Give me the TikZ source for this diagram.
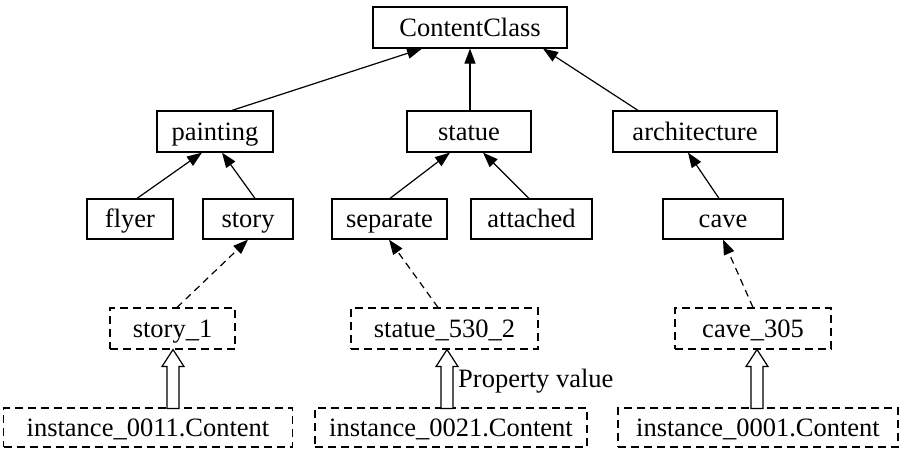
\documentclass[tikz,border=0pt]{standalone}
\usepackage{fontspec}
\setmainfont{Liberation Serif}
\usetikzlibrary{arrows.meta}
\tikzset{
  cls/.style={draw, line width=1.2pt, rectangle, inner sep=0pt, minimum height=41pt,
    text height=17.5pt, text depth=0pt,
    font=\fontsize{26.5}{30}\selectfont},
  inst/.style={cls, draw, dash pattern=on 8pt off 5pt, line width=1.1pt},
  isa/.style={line width=1.2pt, -{Triangle[length=15pt,width=11pt]}},
  typeof/.style={line width=1.2pt, dash pattern=on 7pt off 5pt, -{Triangle[length=15pt,width=11pt]}},
  hollowup/.pic={
    \draw[line width=1.2pt, fill=white, line join=miter]
      (0,0) -- (11,17) -- (6,17) -- (6,59) -- (-6,59) -- (-6,17) -- (-11,17) -- cycle;
  }
}
\begin{document}
\begin{tikzpicture}[x=1pt,y=-1pt]
\useasboundingbox (0,0) rectangle (901,452);

% class hierarchy
\node[cls, minimum width=194pt] (cc) at (470,27.5) {ContentClass};
\node[cls, minimum width=116pt] (painting) at (215,131.5) {painting};
\node[cls, minimum width=124pt] (statue) at (469,131.5) {statue};
\node[cls, minimum width=164pt] (arch) at (695,131.5) {architecture};

\node[cls, minimum width=86pt, minimum height=40pt] (flyer) at (130,219) {flyer};
\node[cls, minimum width=90pt, minimum height=40pt] (story) at (248,219) {story};
\node[cls, minimum width=115pt, minimum height=40pt] (separate) at (389.5,219) {separate};
\node[cls, minimum width=121pt, minimum height=40pt] (attached) at (531.5,219) {attached};
\node[cls, minimum width=120pt, minimum height=40pt] (cave) at (723,219) {cave};

% instances
\node[inst, minimum width=125pt] (story1) at (172.5,328.5) {story\_1};
\node[inst, minimum width=187pt] (statue5302) at (444.5,328.5) {statue\_530\_2};
\node[inst, minimum width=156pt] (cave305) at (753,328.5) {cave\_305};

\node[inst, minimum width=289pt, minimum height=39pt] (c0011) at (148,427.5) {instance\_0011.Content};
\node[inst, minimum width=272pt, minimum height=39pt] (c0021) at (451,427.5) {instance\_0021.Content};
\node[inst, minimum width=280pt, minimum height=39pt] (c0001) at (758,427.5) {instance\_0001.Content};

% subclass links
\draw[isa] ([xshift=17pt]painting.north) -- ([xshift=-48pt]cc.south);
\draw[isa] ([xshift=1pt]statue.north) -- (cc.south);
\draw[isa] ([xshift=-57pt]arch.north) -- ([xshift=73pt]cc.south);
\draw[isa] ([xshift=7pt]flyer.north) -- ([xshift=-13pt]painting.south);
\draw[isa] ([xshift=7pt]story.north) -- ([xshift=7pt]painting.south);
\draw[isa] ([xshift=0.5pt]separate.north) -- ([xshift=-19pt]statue.south);
\draw[isa] ([xshift=-2.5pt]attached.north) -- ([xshift=14pt]statue.south);
\draw[isa] ([xshift=-4pt]cave.north) -- ([xshift=-7pt]arch.south);

% instance-of links
\draw[typeof] ([xshift=4.5pt]story1.north) -- (story.south);
\draw[typeof] ([xshift=-6.5pt]statue5302.north) -- ([xshift=-0.5pt]separate.south);
\draw[typeof] (cave305.north) -- (cave.south);

% property value arrows
\pic at ([xshift=0.5pt]story1.south) {hollowup};
\pic at ([xshift=2.5pt]statue5302.south) {hollowup};
\pic at ([xshift=4pt]cave305.south) {hollowup};

\node[anchor=base west, inner sep=0pt, font=\fontsize{26.5}{30}\selectfont] (propval) at (458,387) {Property value};
\end{tikzpicture}
\end{document}
